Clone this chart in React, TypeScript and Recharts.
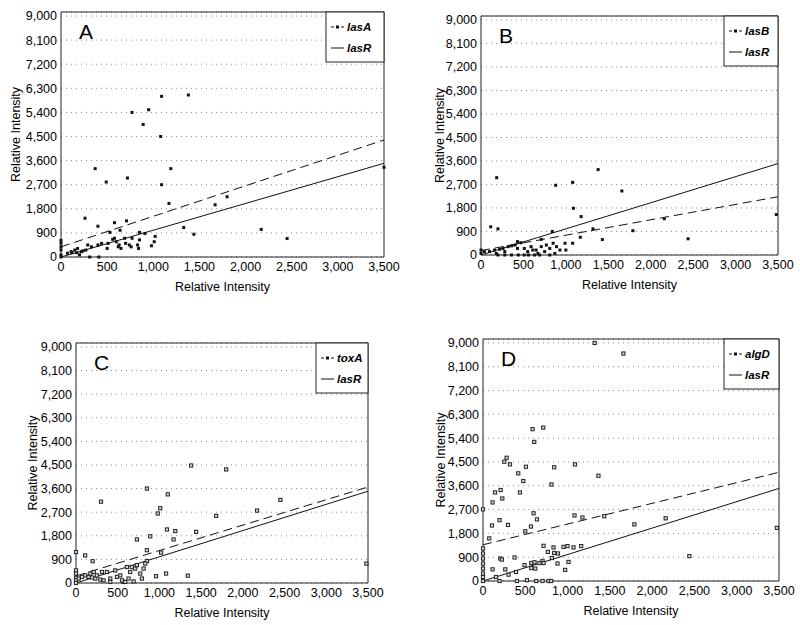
import React from 'react';
import { ScatterChart, Scatter, XAxis, YAxis, CartesianGrid, ReferenceLine, ReferenceArea } from 'recharts';

const FONT = '"Liberation Sans", Arial, Helvetica, sans-serif';
const X_TICKS = [0, 500, 1000, 1500, 2000, 2500, 3000, 3500];
const Y_TICKS = [0, 900, 1800, 2700, 3600, 4500, 5400, 6300, 7200, 8100, 9000];
const Y_MAX = 9150;
const AXIS_TITLE = 'Relative Intensity';
const REF_GENE = 'lasR';

// [lasR intensity, gene intensity]
const lasA: [number, number][] = [
  [0, 620], [0, 510], [0, 380], [0, 260], [0, 80], [0, 0],
  [70, 140], [110, 200], [120, 160], [150, 260], [170, 160], [180, 320], [200, 80], [220, 200], [240, 230],
  [270, 260], [290, 450], [310, 0], [330, 380], [400, 450], [410, 0], [440, 510], [500, 320], [510, 510],
  [260, 1450], [400, 1150], [580, 1280], [710, 1350], [530, 920], [560, 660], [580, 700], [600, 570],
  [620, 380], [630, 450], [640, 1000], [650, 320], [690, 700], [700, 510], [740, 450], [760, 380], [770, 700],
  [830, 450], [840, 320], [850, 640], [850, 920], [910, 880], [980, 420], [1010, 570], [1020, 770],
  [370, 3300], [490, 2800], [720, 2950], [770, 5400], [890, 4950], [950, 5500], [1080, 4500], [1090, 6000],
  [1380, 6050], [1090, 2700], [1190, 3300], [1170, 2000], [1330, 1100], [1440, 850], [1670, 1950],
  [1800, 2250], [2170, 1030], [2450, 690], [3500, 3350],
];

const lasB: [number, number][] = [
  [0, 190], [0, 60], [40, 130], [100, 130], [160, 190], [180, 60], [220, 220], [260, 250], [280, 130],
  [320, 320], [360, 350], [400, 380], [430, 510], [470, 470], [430, 250], [510, 250], [550, 130], [590, 320],
  [610, 190], [650, 190], [670, 60], [710, 320], [710, 600], [770, 380], [810, 250], [850, 450], [890, 320],
  [930, 190], [990, 450], [1000, 190], [1080, 450], [360, 0], [440, 0], [510, 0], [630, 0], [750, 130],
  [870, 60], [280, 0], [200, 0], [560, 0], [690, 0], [810, 0],
  [115, 1080], [200, 1000], [185, 2960], [840, 900], [880, 2670], [1080, 2780], [1380, 3270], [1660, 2450],
  [1090, 1790], [1180, 1470], [1320, 1000], [1790, 930], [1170, 680], [1430, 590], [2160, 1390],
  [2440, 620], [3480, 1550],
];

const toxA: [number, number][] = [
  [1380, 4480], [1800, 4330], [850, 3600], [1100, 3380], [300, 3100], [980, 2650], [1010, 2850],
  [1680, 2560], [2170, 2760], [2450, 3170], [3480, 740], [1090, 2040], [1190, 1980], [1440, 1950],
  [1170, 1660], [730, 1660], [890, 1780], [850, 1250], [1020, 1160], [110, 1050], [200, 830], [0, 1180],
  [960, 260], [1080, 360], [1340, 280], [850, 840],
  [0, 480], [0, 360], [0, 200], [0, 100], [0, 0], [32, 170], [72, 230], [111, 290], [151, 230], [172, 360],
  [212, 420], [191, 210], [231, 170], [251, 290], [291, 130], [331, 100], [311, 420], [371, 420], [411, 170],
  [411, 40], [471, 480], [491, 230], [531, 290], [571, 40], [610, 610], [630, 170], [650, 420], [670, 610],
  [710, 550], [730, 680], [770, 360], [790, 170], [810, 550], [830, 740], [551, 100], [590, 40], [690, 60],
];

const algD: [number, number][] = [
  [1320, 9000], [1660, 8600], [586, 5740], [712, 5800], [606, 5260], [279, 4660], [252, 4510], [319, 4410],
  [508, 4320], [842, 4300], [1087, 4410], [417, 4070], [476, 3780], [810, 3650], [1365, 3980], [208, 3440],
  [142, 3350], [437, 3350], [228, 3120], [113, 2970], [598, 2560], [638, 2330], [196, 2300], [295, 2120],
  [106, 2100], [567, 2060], [500, 1880], [1082, 2480], [1176, 2400], [1433, 2450], [74, 1610], [0, 2710],
  [1790, 2140], [2160, 2370], [2440, 940], [3475, 2010],
  [716, 1330], [834, 1270], [952, 1290], [999, 1320], [1070, 1270], [1161, 1320], [767, 1100], [842, 1060],
  [886, 1040], [204, 850], [224, 810], [373, 890], [570, 680], [609, 710], [668, 680], [704, 760], [716, 680],
  [815, 870], [881, 660], [1011, 720], [491, 600], [113, 440], [263, 440], [570, 490], [618, 470], [972, 420],
  [302, 240], [154, 150], [390, 340], [196, 0], [401, 0], [520, 30], [630, 0], [704, 0], [775, 0], [806, 0],
  [0, 1230], [0, 1040], [0, 850], [0, 660], [0, 470], [0, 280], [0, 150], [0, 0],
];

// trend lines: identity (lasR) and the gene's fit
const IDENTITY = [{ x: 0, y: 0 }, { x: 3500, y: 3500 }];
const FIT_A = [{ x: 0, y: 380 }, { x: 3500, y: 4370 }];
const FIT_B = [{ x: 0, y: 170 }, { x: 3500, y: 2230 }];
const FIT_C = [{ x: 0, y: 270 }, { x: 3500, y: 3660 }];
const FIT_D = [{ x: 0, y: 1370 }, { x: 3500, y: 4110 }];

const PANELS = [
  { letter: 'A', gene: 'lasA', points: lasA, fit: FIT_A, hollow: false, cx: 0, left: 61, right: 384, top: 12, bottom: 257, titleX: 16, legW: 58 },
  { letter: 'B', gene: 'lasB', points: lasB, fit: FIT_B, hollow: false, cx: 400, left: 481, right: 778, top: 16, bottom: 255, titleX: 40, legW: 54 },
  { letter: 'C', gene: 'toxA', points: toxA, fit: FIT_C, hollow: true, cx: 0, left: 76, right: 368, top: 343, bottom: 583, titleX: 33, legW: 52 },
  { letter: 'D', gene: 'algD', points: algD, fit: FIT_D, hollow: true, cx: 400, left: 483, right: 779, top: 339, bottom: 581, titleX: 41, legW: 55 },
];

const fmt = (v: number) => v.toLocaleString('en-US');
const tickStyle = { fontSize: 12.5, fill: '#000', fontFamily: FONT };

function Panel({ p }: { p: (typeof PANELS)[number] }) {
  const data = p.points.map(([x, y]) => ({ x, y }));
  const plotH = p.bottom - p.top;
  const height = 4 + plotH + 36 + 4;
  const shape = (s: any) =>
    p.hollow ? (
      <rect x={s.cx - 1.6} y={s.cy - 1.6} width={3.2} height={3.2} fill="#d8d8d8" stroke="#222" strokeWidth={1} />
    ) : (
      <rect x={s.cx - 1.5} y={s.cy - 1.5} width={3} height={3} fill="#111" />
    );
  return (
    <div style={{ position: 'absolute', left: p.cx, top: p.top - 4 }}>
      <ScatterChart width={400} height={height} margin={{ top: 4, right: p.cx + 400 - p.right, bottom: 4, left: 0 }}>
        <CartesianGrid horizontal vertical={false} stroke="#8a8a8a" strokeDasharray="1 4" />
        <XAxis
          type="number" dataKey="x" domain={[0, 3500]} ticks={X_TICKS} tickFormatter={fmt}
          tickLine={false} axisLine={false} tickSize={3} tickMargin={2} height={36} tick={tickStyle} interval={0}
          label={{ value: AXIS_TITLE, position: 'insideBottom', offset: 2, fontSize: 12.5, fill: '#000', fontFamily: FONT }}
        />
        <YAxis
          type="number" dataKey="y" domain={[0, Y_MAX]} ticks={Y_TICKS} tickFormatter={fmt}
          tickLine={false} axisLine={false} tickSize={2} tickMargin={2} width={p.left - p.cx} tick={tickStyle} interval={0}
          label={{ value: AXIS_TITLE, angle: -90, position: 'insideLeft', offset: p.titleX, fontSize: 12.5, fill: '#000', fontFamily: FONT, style: { textAnchor: 'middle' } }}
        />
        <ReferenceArea x1={0} x2={3500} y1={0} y2={Y_MAX} fill="none" stroke="#222" strokeWidth={1} ifOverflow="visible" />
        <ReferenceLine segment={IDENTITY} stroke="#111" strokeWidth={1} ifOverflow="visible" />
        <ReferenceLine segment={p.fit} stroke="#111" strokeWidth={1} strokeDasharray="9 5" ifOverflow="visible" />
        <Scatter data={data} isAnimationActive={false} shape={shape} />
      </ScatterChart>
    </div>
  );
}

function Overlay() {
  return (
    <svg width={800} height={625} style={{ position: 'absolute', left: 0, top: 0, pointerEvents: 'none' }} fontFamily={FONT}>
      {PANELS.map((p) => {
        const lx = p.right - p.legW;
        const r1 = p.top + 15;
        const r2 = p.top + 36;
        return (
          <g key={p.letter}>
            <text x={p.left + 18} y={p.top + 27} fontSize={21} fill="#000">{p.letter}</text>
            <rect x={lx} y={p.top} width={p.legW} height={50} fill="#fff" stroke="#222" strokeWidth={1} />
            <line x1={lx + 5} x2={lx + 18} y1={r1} y2={r1} stroke="#111" strokeDasharray="3 2" />
            <rect x={lx + 10} y={r1 - 1.5} width={3} height={3} fill="#111" />
            <text x={lx + 21} y={r1 + 4} fontSize={11.5} fontWeight="bold" fontStyle="italic" fill="#000">{p.gene}</text>
            <line x1={lx + 5} x2={lx + 18} y1={r2} y2={r2} stroke="#111" />
            <text x={lx + 21} y={r2 + 4} fontSize={11.5} fontWeight="bold" fontStyle="italic" fill="#000">{REF_GENE}</text>
          </g>
        );
      })}
    </svg>
  );
}

export default function App() {
  return (
    <div style={{ position: 'absolute', left: 0, top: 0, width: 800, height: 625, background: '#fff', fontFamily: FONT }}>
      {PANELS.map((p) => <Panel key={p.letter} p={p} />)}
      <Overlay />
    </div>
  );
}
